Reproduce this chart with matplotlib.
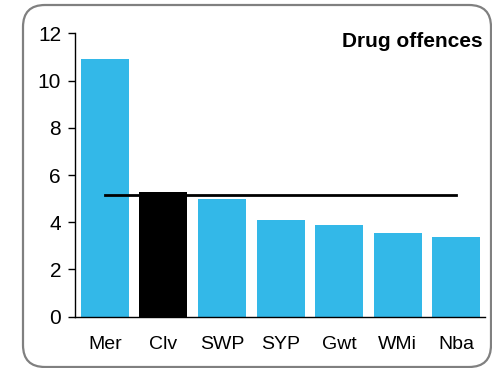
import matplotlib
matplotlib.use("Agg")
import matplotlib.pyplot as plt
from matplotlib.patches import FancyBboxPatch

# Drug offences per force, with the average line
forces = ["Mer", "Clv", "SWP", "SYP", "Gwt", "WMi", "Nba"]
rates = [10.9, 5.3, 4.97, 4.1, 3.87, 3.55, 3.37]
average = 5.15
highlight = "Clv"

plt.rcParams['font.family'] = ['Liberation Sans', 'DejaVu Sans']

fig = plt.figure(figsize=(4.92, 3.68), dpi=100)
ax = fig.add_axes([0.1524, 0.1394, 0.8334, 0.7701])

colors = ['black' if f == highlight else '#33b8e8' for f in forces]
ax.bar(forces, rates, width=0.82, color=colors, zorder=2)
ax.plot([forces[0], forces[-1]], [average, average], color='black', lw=2, zorder=3)

ax.set_xlim(-0.51, len(forces) - 0.51)
ax.set_ylim(0, 12)
ax.set_yticks(range(0, 13, 2))
ax.tick_params(axis='y', labelsize=15, length=5, width=1, direction='out', pad=5)
ax.tick_params(axis='x', labelsize=14, length=0, pad=14)
for side in ['top', 'right']:
    ax.spines[side].set_visible(False)
ax.spines['left'].set_linewidth(1)
ax.spines['bottom'].set_linewidth(1)
ax.set_facecolor('none')

ax.text(0.993, 0.953, "Drug offences", transform=ax.transAxes, ha='right',
        va='baseline', fontsize=15, fontweight='bold')

# rounded border around the chart (pixel coords)
border = FancyBboxPatch((23, 1), 468, 362, boxstyle="round,pad=0,rounding_size=22",
                        transform=None, fill=False, edgecolor='#808080', lw=1.6,
                        zorder=-1)
fig.patches.append(border)

fig.savefig("out.png", dpi=100)
